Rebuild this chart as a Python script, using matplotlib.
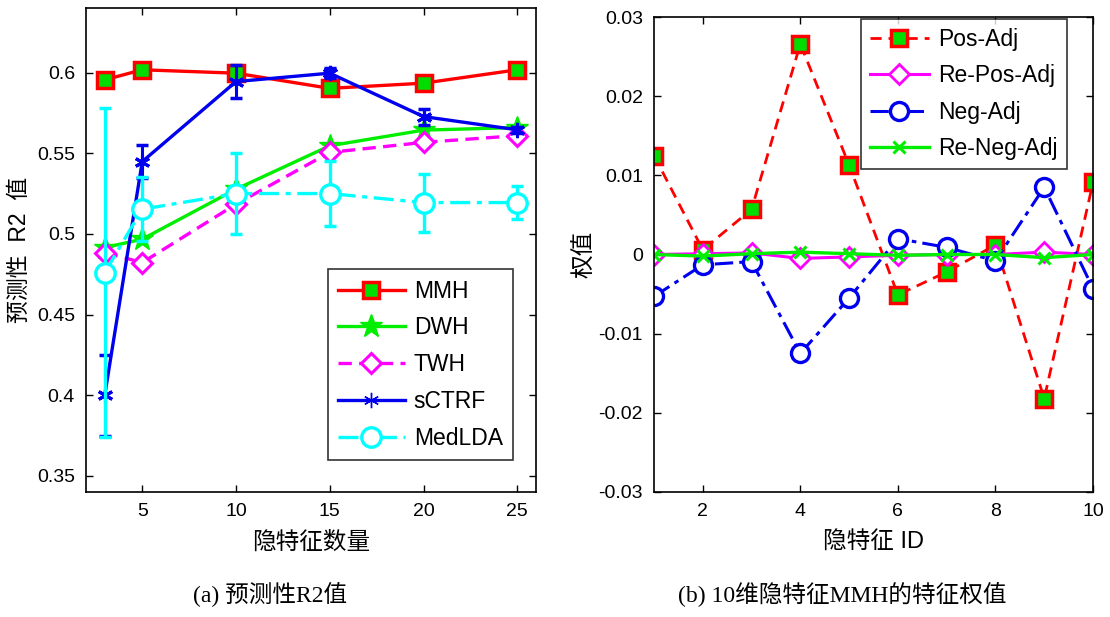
import matplotlib
matplotlib.use("Agg")
import matplotlib.pyplot as plt
from matplotlib.lines import Line2D

plt.rcParams['font.family'] = ['Liberation Sans', 'Noto Sans CJK SC', 'DejaVu Sans']
plt.rcParams['axes.unicode_minus'] = False

# ---- (a) R2 vs number of latent features ----
num_features = [3, 5, 10, 15, 20, 25]
mmh = [0.5955, 0.6017, 0.5996, 0.5902, 0.5934, 0.6017]
dwh = [0.4915, 0.4967, 0.5277, 0.5546, 0.5643, 0.5659]
twh = [0.4884, 0.4822, 0.5184, 0.5505, 0.5567, 0.5609]
sctrf = [0.400, 0.5448, 0.5944, 0.5996, 0.5727, 0.5645]
sctrf_err = [0.025, 0.010, 0.010, 0.003, 0.005, 0.002]
medlda = [0.476, 0.5153, 0.525, 0.525, 0.5194, 0.5194]
medlda_err = [0.102, 0.020, 0.025, 0.020, 0.018, 0.010]
left_yticks = [0.35, 0.4, 0.45, 0.5, 0.55, 0.6]
left_xticks = [5, 10, 15, 20, 25]

# ---- (b) weights of 10 latent features ----
feature_id = list(range(1, 11))
pos_adj = [0.0125, 0.0006, 0.0057, 0.0266, 0.0113, -0.0051, -0.0022, 0.0012, -0.0182, 0.0091]
re_pos_adj = [0.0, 0.0001, 0.0002, -0.0005, -0.0003, -0.0001, 0.0, 0.0, 0.0003, 0.0]
neg_adj = [-0.0053, -0.0013, -0.0009, -0.0125, -0.0055, 0.0020, 0.0009, -0.0008, 0.0085, -0.0043]
re_neg_adj = [0.0, -0.0002, 0.0001, 0.0003, 0.0001, -0.0001, 0.0, 0.0, -0.0004, 0.0]
right_yticks = [-0.03, -0.02, -0.01, 0, 0.01, 0.02, 0.03]
right_yticklabels = ['-0.03', '-0.02', '-0.01', '0', '0.01', '0.02', '0.03']
right_xticks = [2, 4, 6, 8, 10]

W, H = 1110, 617
fig = plt.figure(figsize=(W / 100, H / 100), dpi=100)

def box(x0, y0, x1, y1):
    return [x0 / W, 1 - y1 / H, (x1 - x0) / W, (y1 - y0) / H]

ax1 = fig.add_axes(box(86, 8, 536, 492))
ax2 = fig.add_axes(box(654, 17, 1093, 492))

for ax in (ax1, ax2):
    ax.tick_params(direction='in', top=True, right=True, labelsize=14,
                   length=5, width=1.0, pad=8)
    for s in ax.spines.values():
        s.set_linewidth(1.2)

lw = 2.4
l_mmh, = ax1.plot(num_features, mmh, '-s', color='red', lw=lw, ms=11, mfc='#00dd00',
                  mec='red', mew=2.5, label='MMH')
l_dwh, = ax1.plot(num_features, dwh, '-*', color='#00ee00', lw=lw, ms=17,
                  mfc='#00ee00', mec='#00ee00', label='DWH')
l_twh, = ax1.plot(num_features, twh, '--D', color='#ff00ff', lw=lw, ms=10, mfc='white',
                  mec='#ff00ff', mew=2.2, label='TWH', dashes=(4, 2.2))
ax1.errorbar(num_features, sctrf, yerr=sctrf_err, fmt='none', ecolor='#0000ee',
             elinewidth=2.2, capsize=4, capthick=2.5)
l_sc, = ax1.plot(num_features, sctrf, '-', color='#0000ee', lw=lw,
                 marker=(6, 2, 0), ms=11, mew=2.2, label='sCTRF')
ax1.errorbar(num_features, medlda, yerr=medlda_err, fmt='none', ecolor='cyan',
             elinewidth=2.4, capsize=4, capthick=2.5)
l_med, = ax1.plot(num_features, medlda, '-.', color='cyan', lw=lw,
                  marker='o', ms=14, mfc='white', mec='cyan', mew=2.4,
                  label='MedLDA', dashes=(6, 2, 1.5, 2))
ax1.set_xlim(2, 26)
ax1.set_ylim(0.34, 0.64)
ax1.set_xticks(left_xticks)
ax1.set_yticks(left_yticks)
ax1.set_yticklabels([f'{v:g}' for v in left_yticks])
ax1.set_xlabel('隐特征数量', fontsize=17, labelpad=8)
ax1.set_ylabel('预测性  R2  值', fontsize=16.5)
ax1.yaxis.set_label_coords(-0.122, 0.5)

# legend handle drawn thinner for the asterisk marker
leg_sc = Line2D([], [], color='#0000ee', lw=lw, marker=(6, 2, 0), ms=11, mew=1.0)
leg1 = ax1.legend([l_mmh, l_dwh, l_twh, leg_sc, l_med],
                  ['MMH', 'DWH', 'TWH', 'sCTRF', 'MedLDA'],
                  loc='lower right', bbox_to_anchor=(0.949, 0.066), borderaxespad=0,
                  fontsize=16.5, frameon=True, fancybox=False, edgecolor='black',
                  handlelength=2.9, handletextpad=0.4, borderpad=0.45,
                  labelspacing=0.6)
leg1.get_frame().set_linewidth(1.2)

ax2.plot(feature_id, pos_adj, '--s', color='red', lw=2.0, ms=11, mfc='#00dd00',
         mec='red', mew=2.5, label='Pos-Adj', dashes=(4, 2.5))
ax2.plot(feature_id, re_pos_adj, '-D', color='#ff00ff', lw=2.2, ms=10, mfc='white',
         mec='#ff00ff', mew=2.0, label='Re-Pos-Adj')
ax2.plot(feature_id, neg_adj, '-.o', color='#0000ee', lw=2.2, ms=13, mfc='white',
         mec='#0000ee', mew=2.4, label='Neg-Adj', dashes=(6, 2, 1.5, 2))
ax2.plot(feature_id, re_neg_adj, '-x', color='#00ee00', lw=2.4, ms=8,
         mec='#00ee00', mew=2.2, label='Re-Neg-Adj')
ax2.set_xlim(1, 10)
ax2.set_ylim(-0.03, 0.03)
ax2.set_xticks(right_xticks)
ax2.set_yticks(right_yticks)
ax2.set_yticklabels(right_yticklabels)
ax2.set_xlabel('隐特征 ID', fontsize=17, labelpad=8)
ax2.set_ylabel('权值', fontsize=17)
ax2.yaxis.set_label_coords(-0.132, 0.5)

leg2 = ax2.legend(loc='upper right', bbox_to_anchor=(0.941, 0.996), borderaxespad=0,
                  fontsize=16.5, frameon=True, fancybox=False, edgecolor='black',
                  handlelength=2.6, handletextpad=0.4, borderpad=0.4,
                  labelspacing=0.58)
leg2.get_frame().set_linewidth(1.2)

cap_font = ['Liberation Serif', 'Noto Sans CJK SC']
fig.text(270 / W, 1 - 595 / H, '(a) 预测性R2值', ha='center', va='center',
         fontsize=17, family=cap_font)
fig.text(842 / W, 1 - 595 / H, '(b) 10维隐特征MMH的特征权值', ha='center',
         va='center', fontsize=17, family=cap_font)

fig.savefig('out.png', dpi=100, facecolor='white')
